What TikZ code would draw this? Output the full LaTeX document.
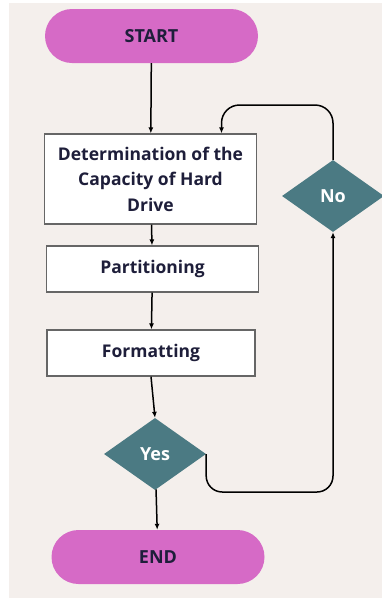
\documentclass[tikz,border=0pt]{standalone}
\usepackage{fontspec}
\setmainfont{Open Sans}
\usepackage{tikz}
\usetikzlibrary{arrows.meta}
\usetikzlibrary{shapes.geometric}

\definecolor{bgbeige}{HTML}{F4EFEC}
\definecolor{orchid}{HTML}{D66AC6}
\definecolor{tealgray}{HTML}{4B7A83}
\definecolor{darkink}{HTML}{1E1E3A}

\begin{document}
\begin{tikzpicture}[x=1pt, y=-1pt, >={Latex[length=6pt,width=5pt]},
        terminal/.style={rounded corners=27pt, fill=orchid, minimum width=213pt, minimum height=54pt, font=\bfseries\fontsize{18}{20}\selectfont, text=darkink},
        process/.style={draw=gray!80!black, line width=1.2pt, fill=white, minimum width=212pt, font=\bfseries\fontsize{17.5}{25.5}\selectfont, text=darkink, align=center},
        decision/.style={diamond, fill=tealgray, inner sep=0pt, minimum width=102pt, minimum height=72pt, aspect=1.42, font=\bfseries\fontsize{18}{20}\selectfont, text=white},
        flow/.style={->, line width=1.5pt}]
        \useasboundingbox (0,0) rectangle (382,598);
        \fill[bgbeige] (9,3) rectangle (382,598);

        \node[terminal] (start) at (151.5,36) {START};
        \node[process, minimum height=90pt] (det) at (150.5,179) {Determination of the\\Capacity of Hard\\Drive};
        \node[process, minimum height=46pt] (part) at (152.5,269) {Partitioning};
        \node[process, minimum height=46pt, minimum width=208pt] (form) at (151,353) {Formatting};
        \node[decision] (yes) at (155,454) {Yes};
        \node[terminal] (end) at (158,557) {END};
        \node[decision] (no) at (333,196) {No};

        \draw[flow] (start) -- (det);
        \draw[flow] (det) -- (part);
        \draw[flow] (part) -- (form);
        \draw[flow] (form.south) -- (yes.north);
        \draw[flow] (yes) -- (end);

        % loop back through the No branch
        \draw[flow, rounded corners=16pt] (yes.east) |- (no.south |- 0,492) -- (no.south);
        \draw[flow, rounded corners=18pt] (no.north) |- ([xshift=71pt]det.north |- 0,105) -- ([xshift=71pt]det.north);

    \end{tikzpicture}
\end{document}
